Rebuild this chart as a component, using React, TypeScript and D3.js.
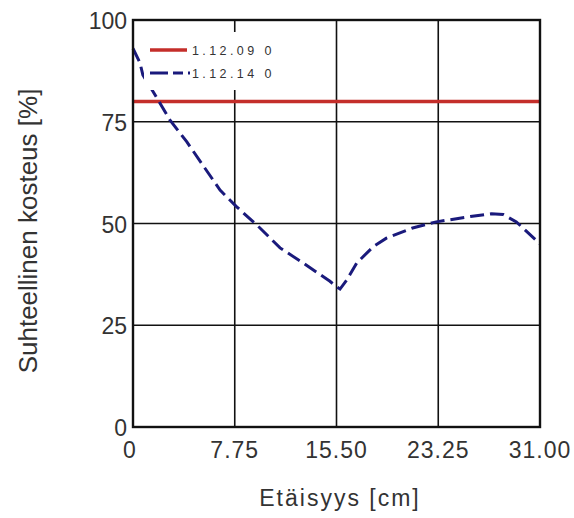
import React from "react";
import * as d3 from "d3";

// Relative humidity profile across the wall section
const distance = [0, 0.53, 0.75, 1.83, 2.82, 4.09, 6.63, 7.9, 9.67, 11.2, 12.95, 15.0, 15.5, 15.77, 16.28, 17.04, 18.3, 19.3, 21.3, 23.1, 25.7, 27.3, 28.2, 29.2, 31.0];
const humidity2014 = [93, 89.5, 86.5, 80.8, 75.4, 70.1, 58.2, 54.1, 48.9, 44, 40.3, 35.8, 34.5, 33.9, 36.1, 40.3, 44.3, 46.4, 48.9, 50.4, 51.7, 52.4, 52.2, 50.4, 45];
const level2009 = 80;

const xTicks = [0, 7.75, 15.5, 23.25, 31];
const xTickLabels = ["0", "7.75", "15.50", "23.25", "31.00"];
const yTicks = [0, 25, 50, 75, 100];
const legendLabels = ["1.12.09  0", "1.12.14  0"];

const W = 574;
const H = 518;
const m = { left: 133, right: 540, top: 20, bottom: 427 };
const RED = "#c42e2a";
const BLUE = "#1a1a7c";
const FONT = "Liberation Sans, Arial, sans-serif";

export default function App() {
  const x = d3.scaleLinear().domain([0, 31]).range([m.left, m.right]);
  const y = d3.scaleLinear().domain([0, 100]).range([m.bottom, m.top]);

  const line = d3
    .line<number>()
    .x((_, i) => x(distance[i]))
    .y((v) => y(v));

  return (
    <svg width={W} height={H} style={{ position: "absolute", left: 0, top: 0, background: "#fff" }}>
      <rect x={0} y={0} width={W} height={H} fill="#fff" />
      {/* grid */}
      {xTicks.map((t) => (
        <line key={"gx" + t} x1={x(t)} x2={x(t)} y1={m.top} y2={m.bottom} stroke="#111" strokeWidth={1.6} />
      ))}
      {yTicks.map((t) => (
        <line key={"gy" + t} x1={m.left} x2={m.right} y1={y(t)} y2={y(t)} stroke="#111" strokeWidth={1.6} />
      ))}
      {/* 2009 level */}
      <line x1={x(0)} x2={x(31)} y1={y(level2009)} y2={y(level2009)} stroke={RED} strokeWidth={3.5} />
      {/* 2014 profile */}
      <path d={line(humidity2014) || ""} fill="none" stroke={BLUE} strokeWidth={3} strokeDasharray="14,6" />
      {/* legend */}
      <rect x={144} y={32} width={150} height={58} fill="#fff" />
      <g fontFamily={FONT} fontSize={12.5} fill="#333" letterSpacing={3.4}>
        <line x1={150} x2={187} y1={50} y2={50} stroke={RED} strokeWidth={3.5} />
        <text x={192} y={55}>{legendLabels[0]}</text>
        <line x1={150} x2={190} y1={73} y2={73} stroke={BLUE} strokeWidth={3} strokeDasharray="18,5,10,5" />
        <text x={192} y={78}>{legendLabels[1]}</text>
      </g>
      {/* frame */}
      <rect x={m.left} y={m.top} width={m.right - m.left} height={m.bottom - m.top} fill="none" stroke="#111" strokeWidth={2.4} />
      {/* y tick labels */}
      <g fontFamily={FONT} fontSize={23} fill="#333" textAnchor="end">
        {yTicks.map((t) => (
          <text key={"yl" + t} x={m.left - 6} y={y(t) + 9}>
            {t}
          </text>
        ))}
      </g>
      {/* x tick labels */}
      <g fontFamily={FONT} fontSize={23} fill="#333" textAnchor="middle" letterSpacing={1}>
        {xTicks.map((t, i) => (
          <text key={"xl" + t} x={i === 0 ? x(t) - 3 : x(t)} y={458}>
            {xTickLabels[i]}
          </text>
        ))}
      </g>
      <text x={340} y={506} fontFamily={FONT} fontSize={23} fill="#333" textAnchor="middle" letterSpacing={2}>
        Etäisyys [cm]
      </text>
      <text
        transform={`translate(37,231) rotate(-90)`}
        fontFamily={FONT}
        fontSize={26}
        fill="#333"
        textAnchor="middle"
      >
        Suhteellinen kosteus [%]
      </text>
    </svg>
  );
}
